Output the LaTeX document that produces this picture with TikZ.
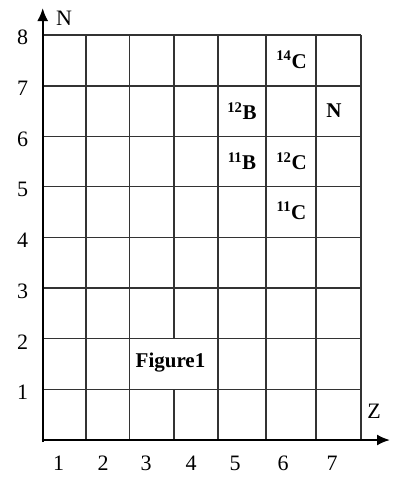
\documentclass[tikz,border=0pt]{standalone}
\usepackage{fontspec}
\setmainfont{Liberation Serif}
\usetikzlibrary{arrows.meta}
\begin{document}
\begin{tikzpicture}[x=1pt,y=-1pt,
  gridline/.style={line width=1.1pt, draw=black!80},
  axisline/.style={line width=2pt, -{Latex[length=13pt,width=11pt]}},
  lab/.style={font=\fontsize{22}{26}\selectfont, inner sep=0pt},
  iso/.style={font=\fontsize{21}{25}\selectfont\bfseries, inner sep=0pt}]
\useasboundingbox (0,0) rectangle (395,480);
% grid
\foreach \x in {86,129.3,218,266,316,361}
  \draw[gridline] (\x,35) -- (\x,440);
\draw[gridline] (174,35) -- (174,338.7);
\draw[gridline] (174,389.3) -- (174,440);
\foreach \y in {35,86,136.7,186.8,237.3,288,338.7,389.3}
  \draw[gridline] (42.7,\y) -- (361,\y);
% axes
\coordinate (xstart) at (41.7,440);
\coordinate (ystart) at (42.7,442);
\coordinate (ytip) at (42.7,8);
\coordinate (xtip) at (390,440);
\draw[axisline] (xstart) -- (xtip);
\draw[axisline] (ystart) -- (ytip);
\node[lab] (Nlab) at (64,18) {N};
\node[lab] (Zlab) at (374,411) {Z};
% y labels
\foreach \k/\y in {1/392,2/342,3/291,4/240,5/189,6/139,7/88,8/37}
  \node[lab] (y\k) at (22.7,\y) {\k};
% x labels
\foreach \k/\x in {1/58.7,2/103,3/146,4/191,5/235,6/283,7/332}
  \node[lab] (x\k) at (\x,463) {\k};
% isotopes
\node[iso] (c14) at (291.5,60) {\textsuperscript{14}C};
\node[iso] (b12) at (242,111) {\textsuperscript{12}B};
\node[iso] (n) at (334,111) {N};
\node[iso] (b11) at (242,161) {\textsuperscript{11}B};
\node[iso] (c12) at (291.5,161) {\textsuperscript{12}C};
\node[iso] (c11) at (291.5,211) {\textsuperscript{11}C};
\node[iso] (fig) at (170.5,363) {Figure1};
\end{tikzpicture}
\end{document}
